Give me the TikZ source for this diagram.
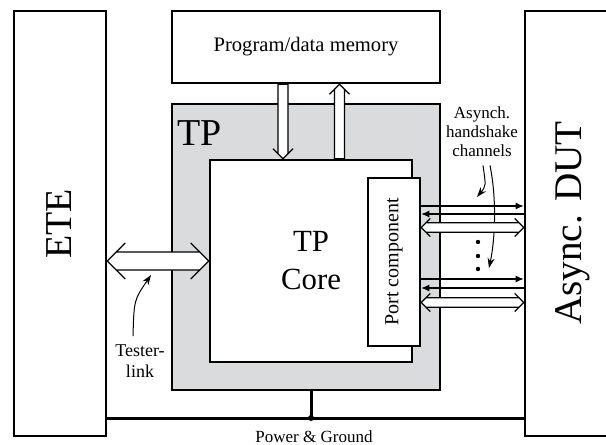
\documentclass[tikz,border=0pt]{standalone}
\usepackage{fontspec}
\setmainfont{Liberation Serif}
\usetikzlibrary{calc,arrows.meta}

\definecolor{tpgray}{RGB}{218,219,221}

\tikzset{
  box/.style={draw, line width=1.3pt, fill=white, inner sep=0pt},
  biglabel/.style={font=\fontsize{19}{19}\selectfont},
  smalltext/.style={font=\fontsize{8.5}{9.5}\selectfont, align=center, inner sep=0pt},
  chline/.style={line width=0.6pt, -{Latex[length=4pt,width=3.5pt]}},
  bendarrow/.style={line width=0.5pt, -{Stealth[length=5pt,width=3.5pt]}},
  hollow/.style={line width=0.6pt, fill=white},
  % fat arrow with two open heads, #1 = half shaft, #2 = half head
  hollowboth/.style 2 args={to path={
    (\tikztostart) -- ($(\tikztostart)!{1.4142*#1}!45:(\tikztotarget)$)
    -- ($(\tikztotarget)!{1.4142*#1}!-45:(\tikztostart)$) -- (\tikztotarget)
    -- ($(\tikztotarget)!{1.4142*#1}!45:(\tikztostart)$)
    -- ($(\tikztostart)!{1.4142*#1}!-45:(\tikztotarget)$) -- cycle
    (\tikztostart) -- ($(\tikztostart)!{1.4142*#2}!45:(\tikztotarget)$)
    (\tikztostart) -- ($(\tikztostart)!{1.4142*#2}!-45:(\tikztotarget)$)
    (\tikztotarget) -- ($(\tikztotarget)!{1.4142*#2}!45:(\tikztostart)$)
    (\tikztotarget) -- ($(\tikztotarget)!{1.4142*#2}!-45:(\tikztostart)$)
  }},
  % fat arrow with one open head
  hollowto/.style 2 args={to path={
    ($(\tikztostart)!#1!90:(\tikztotarget)$)
    -- ($(\tikztotarget)!{1.4142*#1}!-45:(\tikztostart)$) -- (\tikztotarget)
    -- ($(\tikztotarget)!{1.4142*#1}!45:(\tikztostart)$)
    -- ($(\tikztostart)!#1!-90:(\tikztotarget)$) -- cycle
    (\tikztotarget) -- ($(\tikztotarget)!{1.4142*#2}!45:(\tikztostart)$)
    (\tikztotarget) -- ($(\tikztotarget)!{1.4142*#2}!-45:(\tikztostart)$)
  }}
}

\begin{document}
\begin{tikzpicture}[x=0.5pt,y=-0.5pt]
\useasboundingbox (0,0) rectangle (606,445);

% blocks
\node[box, fill=tpgray, minimum width=134pt, minimum height=143pt] (tp) at (306,247) {};
\node[anchor=base west, inner sep=0pt, biglabel] (tptext) at (177,145) {TP};
\node[box, minimum width=134pt, minimum height=36pt, font=\fontsize{10.3}{12}\selectfont] (mem) at (306,47) {Program/data memory};
\node[box, minimum width=101pt, minimum height=101pt, align=center, font=\fontsize{15.4}{19}\selectfont] (core) at (311,261) {TP\\Core};
\node[box, minimum width=26pt, minimum height=84pt] (port) at (394,262) {};
\node[rotate=90, font=\fontsize{10}{12}\selectfont] (porttext) at (port) {Port component};
\node[box, minimum width=46pt, minimum height=212.5pt] (ete) at (60,223.5) {};
\node[rotate=90, biglabel] (etetext) at (59,224) {ETE};
\node[box, minimum width=47.5pt, minimum height=212.5pt] (dut) at (572.5,223.5) {};
\node[rotate=90, font=\fontsize{19.6}{20}\selectfont] (duttext) at (573,223) {Async. DUT};

% labels
\node[smalltext] (chtext) at (482,132) {Asynch.\\handshake\\channels};
\node[smalltext, font=\fontsize{9}{10.5}\selectfont] (testtext) at (140,361) {Tester-\\link};
\node[smalltext] (pwrtext) at (314,437) {Power \& Ground};

% pointers
\coordinate (chtip1) at (477,197);
\coordinate (chtip2) at (489,268);
\coordinate (tltip) at (151,275);
\draw[bendarrow] ([shift={(1,8)}]chtext.south) .. controls (486,186) .. (chtip1);
\draw[bendarrow] ([shift={(8,8)}]chtext.south) .. controls (497,200) and (495,240) .. (chtip2);
\draw[bendarrow] ([shift={(-7,-8)}]testtext.north) .. controls (134,300) .. (tltip);

% channels
\draw[chline] (port.east |- 0,206) -- (dut.west |- 0,206);
\draw[chline] (dut.west |- 0,214) -- (port.east |- 0,214);
\draw[hollow, hollowboth={2.4pt}{4.5pt}] (port.east |- 0,227.5) to (dut.west |- 0,227.5);
\draw[chline] (port.east |- 0,279) -- (dut.west |- 0,279);
\draw[chline] (dut.west |- 0,288) -- (port.east |- 0,288);
\draw[hollow, hollowboth={2.4pt}{4.5pt}] (port.east |- 0,302.5) to (dut.west |- 0,302.5);
\fill (478,242) circle (1.1pt);
\fill (478,256) circle (1.1pt);
\fill (478,269) circle (1.1pt);

% memory and tester link
\draw[hollow, hollowto={2.5pt}{5pt}] (mem.south -| 283,0) to (core.north -| 283,0);
\draw[hollow, hollowto={2.5pt}{5pt}] (core.north -| 339.5,0) to (mem.south -| 339.5,0);
\draw[hollow, hollowboth={4.5pt}{9pt}] (ete.east |- 0,261) to (core.west |- 0,261);

% power
\coordinate (pj) at (311,418);
\draw[line width=1.5pt] (ete.east |- pj) -- (dut.west |- pj);
\draw[line width=1.5pt] (tp.south -| pj) -- (pj);
\fill (pj) circle (1.5pt);
\end{tikzpicture}
\end{document}
